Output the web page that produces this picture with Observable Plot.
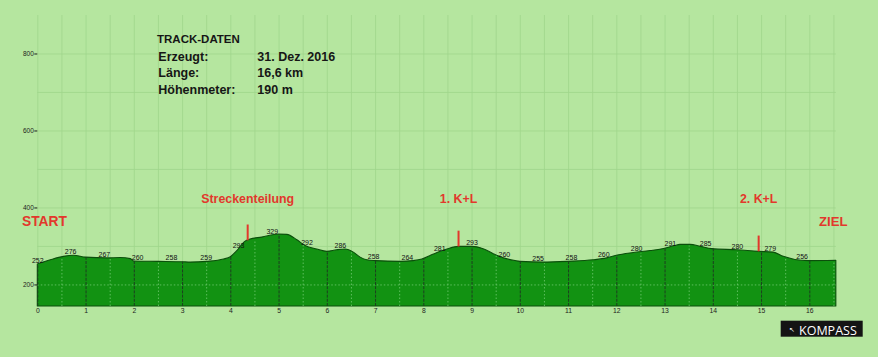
<!DOCTYPE html>
<html>
<head>
<meta charset="utf-8">
<script src="https://cdn.jsdelivr.net/npm/d3@7"></script>
<script src="https://cdn.jsdelivr.net/npm/@observablehq/plot@0.6"></script>
<style>
html,body{margin:0;padding:0;background:#b5e69f;}
#wrap{position:relative;width:878px;height:357px;overflow:hidden;}
</style>
</head>
<body>
<div id="wrap"></div>
<script>
// ---- data ----
const profileKm = [0,0.27,0.54,0.75,1.0,1.44,1.72,1.93,2.0,2.5,3.0,3.17,3.51,3.86,4.0,4.13,4.3,4.41,4.65,5.0,5.17,5.38,5.55,5.79,6.0,6.2,6.38,6.55,6.69,6.83,7.0,7.52,7.79,7.97,8.21,8.49,8.73,9.0,9.24,9.45,9.66,9.9,10.0,10.49,11.0,11.52,11.8,12.0,12.35,12.7,13.0,13.2,13.32,13.53,13.74,13.98,14.5,14.94,15.25,15.46,15.7,15.98,16.55];
const profileElev = [253,264,273,276,271,269,270,267,261,260,259,258,260,266,272,287,312,318,323,331,330,316,301,292,286,290,292,284,271,264,262,260,262,266,279,292,299,299,293,280,269,262,260,258,260,264,269,276,283,288,294,301,304,304,299,293,290,286,284,273,265,262,263];

const labelKm = [0,0.68,1.38,2.07,2.77,3.49,4.16,4.86,5.58,6.27,6.96,7.66,8.33,9.0,9.67,10.37,11.06,11.73,12.41,13.11,13.84,14.5,15.18,15.84];
const labelText = ["252","276","267","260","258","259","293","329","292","286","258","264","281","293","260","255","258","260","280","291","285","280","279","256"];

const markerKm = [4.35, 8.72, 14.94];
const markerText = ["Streckenteilung", "1. K+L", "2. K+L"];

const xTicks = d3.range(0, 17);
const yTicks = [200, 400, 600, 800];
const gridKm = d3.range(0, 16.51, 0.5);
const gridElev = [200, 300, 400, 500, 600, 700, 800];

const infoTitle = "TRACK-DATEN";
const infoLabels = ["Erzeugt:", "Länge:", "Höhenmeter:"];
const infoValues = ["31. Dez. 2016", "16,6 km", "190 m"];
const startText = "START";
const endText = "ZIEL";
const brandText = "KOMPASS";

// ---- styles ----
const FONT = "'Liberation Sans', Arial, sans-serif";
const RED = "#e2382c";
const yMin = 144, yMax = 900;
const xMax = 16.6;
const trackEnd = profileKm[profileKm.length - 1];
const markerLen = 41;

const idx = d3.range(profileKm.length);
const elevAt = d3.scaleLinear().domain(profileKm).range(profileElev);
const halfKm = gridKm.filter(d => d % 1 !== 0);
const intKm = xTicks.filter(d => d <= trackEnd);

const chart = Plot.plot({
  width: 878, height: 357,
  marginLeft: 37.3, marginRight: 39.75, marginTop: 15, marginBottom: 51,
  style: {background: "transparent", fontFamily: FONT, color: "#1d1d1d", overflow: "visible"},
  x: {domain: [0, xMax]},
  y: {domain: [yMin, yMax]},
  marks: [
    // background grid
    Plot.ruleX(gridKm, {x: d => d, y1: yMin, y2: yMax, stroke: "#a0d58c", strokeWidth: 0.8}),
    Plot.ruleY(gridElev, {y: d => d, x1: 0, x2: trackEnd, stroke: "#a0d58c", strokeWidth: 0.8}),
    // profile
    Plot.areaY(idx, {x: i => profileKm[i], y1: yMin, y2: i => profileElev[i], curve: "monotone-x",
      fill: "#129212", stroke: "#0b4f0b", strokeWidth: 1.1}),
    // grid inside the profile
    Plot.ruleY([200], {x1: 0, x2: trackEnd, stroke: "#66c466", strokeWidth: 0.9, strokeDasharray: "1.5,2"}),
    Plot.ruleX(halfKm, {x: d => d, y1: yMin, y2: d => elevAt(d) - 3, stroke: "#66c466", strokeWidth: 0.9, strokeDasharray: "1.5,2"}),
    Plot.ruleX(intKm, {x: d => d, y1: yMin, y2: d => elevAt(d), stroke: "#1d3f20", strokeWidth: 1, strokeDasharray: "3,1.2"}),
    // elevation labels
    Plot.text(labelKm, {x: d => d, y: d => elevAt(d), text: (d, i) => labelText[i], dy: -4,
      fontSize: 7, fill: "#111", lineAnchor: "middle"}),
    // markers
    Plot.ruleX(markerKm, {x: d => d, y1: d => elevAt(d), y2: d => elevAt(d) + markerLen, stroke: RED, strokeWidth: 2}),
    Plot.text(markerKm, {x: d => d, text: (d, i) => markerText[i], frameAnchor: "top", dy: 187, lineAnchor: "bottom",
      fill: RED, fontSize: 12.4, fontWeight: "bold"}),
    // axes
    Plot.axisX({ticks: xTicks, tickSize: 0, tickPadding: 1.5, fontSize: 6.8, label: null, tickFormat: d => d}),
    Plot.axisY({ticks: yTicks, tickSize: 3, tickPadding: 1, fontSize: 6.5, label: null, tickFormat: d => d})
  ]
});
document.getElementById("wrap").appendChild(chart);

// ---- annotations ----
const svg = d3.select(chart);
const ann = svg.append("g").attr("font-family", FONT).attr("text-anchor", "start");
ann.append("text").attr("x", 157).attr("y", 42.7).attr("font-size", 11.5).attr("font-weight", "bold")
  .attr("fill", "#161616").text(infoTitle);
infoLabels.forEach((t, i) => {
  const y = 60.7 + i * 16.5;
  ann.append("text").attr("x", 158.3).attr("y", y).attr("font-size", 12.5).attr("font-weight", "bold").attr("fill", "#161616").text(t);
  ann.append("text").attr("x", 257.3).attr("y", y).attr("font-size", 12.5).attr("font-weight", "bold").attr("fill", "#161616").text(infoValues[i]);
});
ann.append("text").attr("x", 22).attr("y", 226).attr("font-size", 13.8).attr("font-weight", "bold").attr("fill", RED).text(startText);
ann.append("text").attr("x", 819).attr("y", 225.5).attr("font-size", 13.2).attr("font-weight", "bold").attr("fill", RED).text(endText);
// brand
ann.append("rect").attr("x", 780.7).attr("y", 320.7).attr("width", 82).attr("height", 16).attr("fill", "#141414");
ann.append("text").attr("x", 789).attr("y", 332).attr("font-size", 7).attr("fill", "#fff").attr("font-family", "'DejaVu Sans'").text("↖");
ann.append("text").attr("x", 799).attr("y", 334.5).attr("font-size", 12.5).attr("fill", "#fff").attr("font-family", "'Open Sans', sans-serif").text(brandText);
</script>
</body>
</html>
